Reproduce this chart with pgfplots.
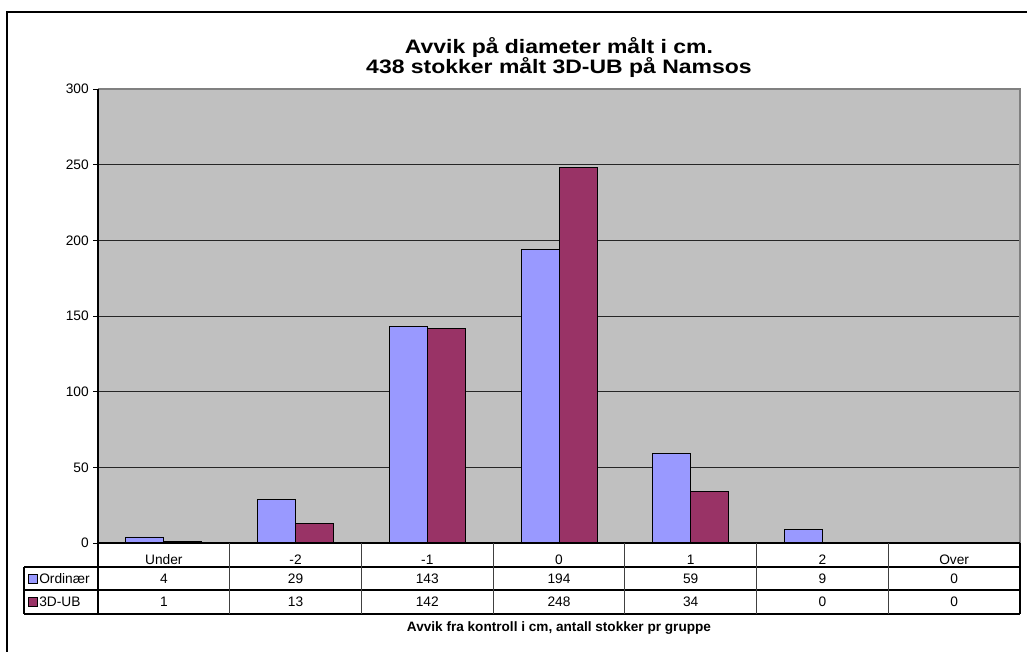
\documentclass[border=0pt]{standalone}
\usepackage{pgfplots}
\pgfplotsset{compat=1.18}
\usepackage{pgfplotstable}
\usepackage{graphicx}
\usepackage{fontspec}
\setmainfont{Liberation Sans}

\definecolor{ordblue}{HTML}{9999FF}
\definecolor{ubred}{HTML}{993366}
\definecolor{plotgray}{HTML}{C0C0C0}
\definecolor{bordergray}{HTML}{808080}

% Avvik i cm: x = gruppeindeks, ord = Ordinær, ub = 3D-UB
\pgfplotstableread{
x ord ub
0 4   1
1 29  13
2 143 142
3 194 248
4 59  34
5 9   0
6 0   0
}\stokker

\newcommand{\tabfont}{\fontsize{10.3}{12}\selectfont}
\newcommand{\titlefont}{\bfseries\fontsize{14.6}{17}\selectfont}
\newcommand{\widetitle}[1]{\scalebox{1.18}[1]{#1}}

\begin{document}
\begin{tikzpicture}[x=0.75pt,y=-0.75pt]
\useasboundingbox (0,0) rectangle (1027,651);
\begin{scope}
  \clip (0,0) rectangle (1027,651);
  \draw[line width=1.9pt] (7,12) rectangle (1045,670);
\end{scope}

\node[font=\titlefont, anchor=base] at (559,53) {\widetitle{Avvik på diameter målt i cm.}};
\node[font=\titlefont, anchor=base] at (559,73.5) {\widetitle{438 stokker målt 3D-UB på Namsos}};

\begin{axis}[
  at={(73.5pt,-407.25pt)}, anchor=south west,
  width=691.5pt, height=340.5pt, scale only axis,
  xmin=-0.5, xmax=6.5, ymin=0, ymax=300,
  axis background/.style={fill=plotgray},
  axis line style={draw=none},
  ytick={0,50,...,300},
  ymajorgrids,
  major grid style={black!85, line width=0.6pt},
  ytick pos=left, tick align=outside,
  major tick length=3.75pt,
  ytick style={black, line width=0.6pt},
  yticklabel style={font=\tabfont, inner sep=0pt, xshift=-3pt},
  xtick={0,...,6},
  xticklabels={Under,-2,-1,0,1,2,Over},
  xtick style={draw=none},
  xticklabel style={font=\tabfont, anchor=center, yshift=-9pt},
  /pgf/number format/assume math mode=true,
  clip=false,
]
\addplot[ybar, bar width=28.5pt, bar shift=-14.25pt, fill=ordblue, draw=black, line width=0.6pt]
  table[x=x, y=ord] {\stokker};
\addplot[ybar, bar width=28.5pt, bar shift=14.25pt, fill=ubred, draw=black, line width=0.6pt]
  table[x=x, y=ub] {\stokker};
% table rows under the axis, printed from the same values
\addplot[sharp plot, draw=none, mark=none, point meta=explicit, nodes near coords,
  every node near coord/.append style={anchor=center, yshift=-26.6pt, font=\tabfont, black}]
  table[x=x, y expr=0, meta=ord] {\stokker};
\addplot[sharp plot, draw=none, mark=none, point meta=explicit, nodes near coords,
  every node near coord/.append style={anchor=center, yshift=-44.2pt, font=\tabfont, black}]
  table[x=x, y expr=0, meta=ub] {\stokker};
\end{axis}

% plot area frame
\draw[bordergray, line width=0.9pt] (98,89) -- (1020,89) -- (1020,543);
\draw[black, line width=0.8pt] (98,89) -- (98,543);

% data table grid
\begin{scope}[line width=0.8pt]
  \draw (98,543) -- (1020,543);
  \draw (24,567) -- (1020,567);
  \draw (24,590) -- (1020,590);
  \draw (24,614) -- (1020,614);
  \draw (24,567) -- (24,614);
  \draw (98,543) -- (98,614);
  \draw (1020,543) -- (1020,614);
  \foreach \k in {1,...,6} {
    \draw[black!75] ({98+\k*131.714},543) -- ({98+\k*131.714},614);
  }
\end{scope}

% legend keys in the table
\draw[fill=ordblue, line width=0.6pt] (28,574) rectangle (37,583);
\node[font=\tabfont, anchor=base west, inner sep=0pt] at (39,583.5) {Ordinær};
\draw[fill=ubred, line width=0.6pt] (28,597) rectangle (37,606);
\node[font=\tabfont, anchor=base west, inner sep=0pt] at (39,606.5) {3D-UB};

\node[font=\bfseries\fontsize{10.2}{12}\selectfont, anchor=base] at (559,631) {Avvik fra kontroll i cm, antall stokker pr gruppe};
\end{tikzpicture}
\end{document}
